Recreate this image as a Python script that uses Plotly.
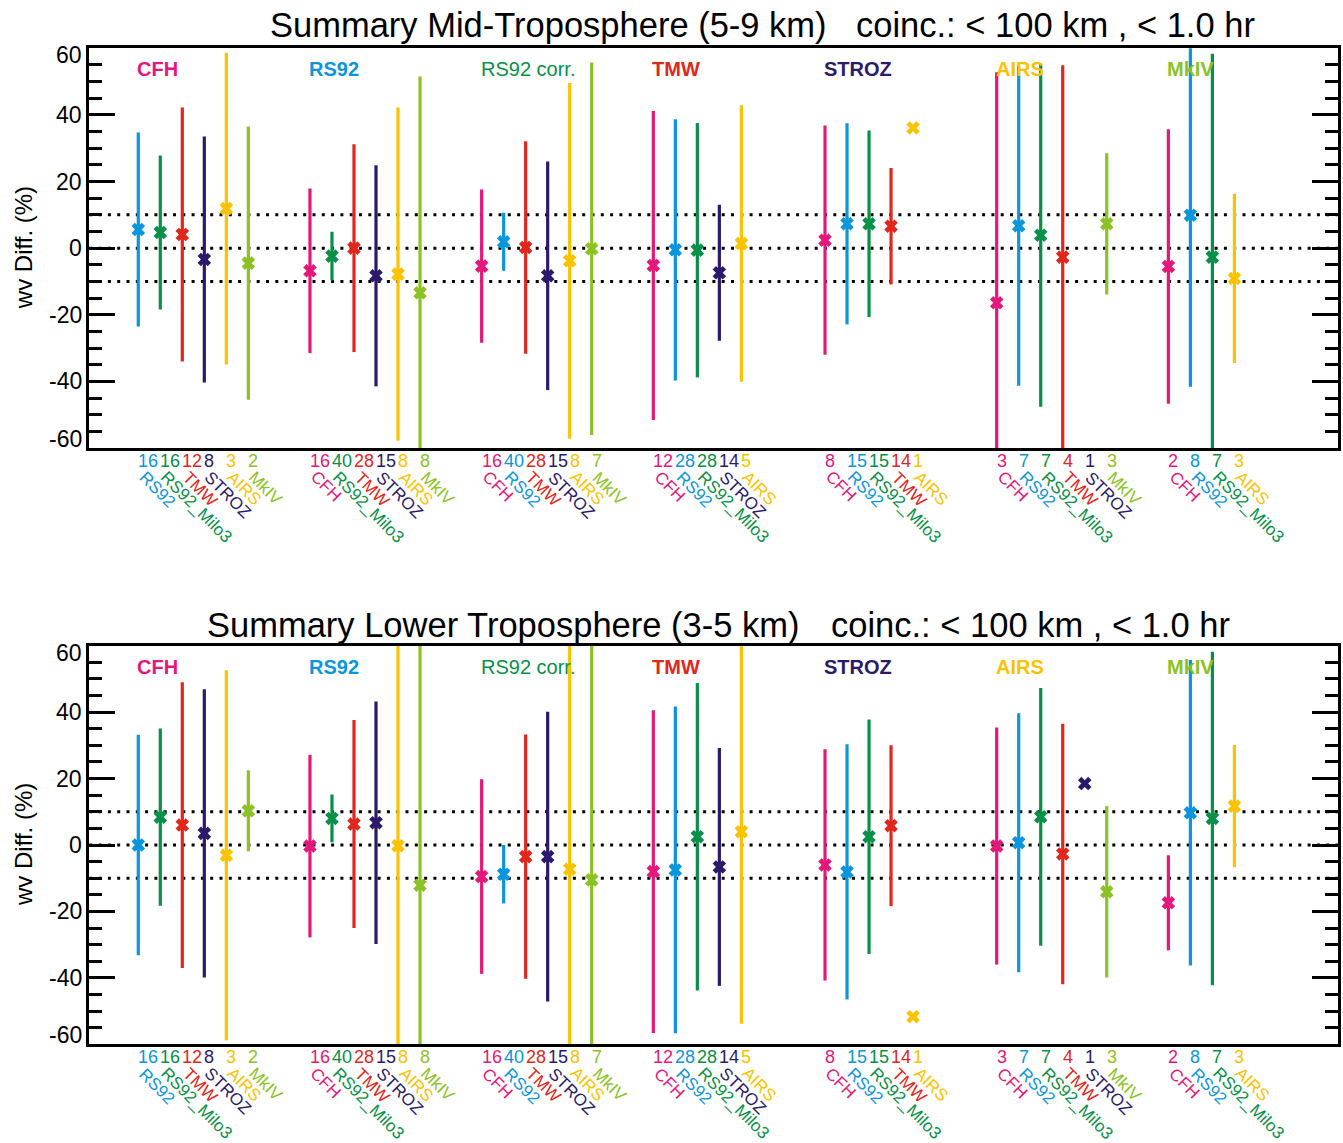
import plotly.graph_objects as go

# ---------------- data ----------------
instruments = ["CFH", "RS92", "RS92_Milo3", "TMW", "STROZ", "AIRS", "MkIV"]
inst_colors = ["#E5177B", "#0A96DC", "#079047", "#E1261C", "#2B1A6B", "#FBC200", "#8CC224"]

group_titles = ["CFH", "RS92", "RS92 corr.", "TMW", "STROZ", "AIRS", "MkIV"]
group_title_colors = ["#E5177B", "#0A96DC", "#079047", "#E1261C", "#2B1A6B", "#FBC200", "#8CC224"]
group_title_bold = [True, True, False, True, True, True, True]

partners = [
    ["RS92", "RS92_Milo3", "TMW", "STROZ", "AIRS", "MkIV"],
    ["CFH", "RS92_Milo3", "TMW", "STROZ", "AIRS", "MkIV"],
    ["CFH", "RS92", "TMW", "STROZ", "AIRS", "MkIV"],
    ["CFH", "RS92", "RS92_Milo3", "STROZ", "AIRS"],
    ["CFH", "RS92", "RS92_Milo3", "TMW", "AIRS"],
    ["CFH", "RS92", "RS92_Milo3", "TMW", "STROZ", "MkIV"],
    ["CFH", "RS92", "RS92_Milo3", "AIRS"],
]
counts = [
    [16, 16, 12, 8, 3, 2],
    [16, 40, 28, 15, 8, 8],
    [16, 40, 28, 15, 8, 7],
    [12, 28, 28, 14, 5],
    [8, 15, 15, 14, 1],
    [3, 7, 7, 4, 1, 3],
    [2, 8, 7, 3],
]

# Mid-troposphere (5-9 km): mean difference and standard deviation (%)
mid_mean = [
    [5.6, 4.7, 4.1, -3.4, 11.9, -4.5],
    [-6.8, -2.4, 0.0, -8.3, -7.8, -13.4],
    [-5.4, 1.9, 0.2, -8.3, -3.8, -0.2],
    [-5.2, -0.5, -0.6, -7.4, 1.4],
    [2.4, 7.3, 7.3, 6.6, 36.1],
    [-16.4, 6.7, 3.9, -2.7, None, 7.3],
    [-5.5, 9.9, -2.7, -9.1],
]
mid_sd = [
    [29.1, 23.1, 38.1, 36.9, 46.8, 41.0],
    [24.7, 7.3, 31.2, 33.2, 50.0, 64.9],
    [23.0, 8.7, 31.9, 34.3, 53.4, 55.9],
    [46.4, 39.2, 38.2, 20.4, 41.5],
    [34.4, 30.2, 28.0, 17.5, None],
    [69.2, 48.0, 51.5, 57.6, None, 21.2],
    [41.2, 51.5, 61.1, 25.4],
]

# Lower troposphere (3-5 km)
low_mean = [
    [0.0, 8.4, 6.0, 3.5, -3.1, 10.3],
    [-0.3, 8.0, 6.3, 6.7, -0.2, -12.1],
    [-9.5, -8.8, -3.5, -3.5, -7.3, -10.5],
    [-8.0, -7.5, 2.5, -6.6, 4.0],
    [-6.0, -8.1, 2.5, 5.8, -51.7],
    [-0.3, 0.7, 8.5, -2.7, 18.5, -14.1],
    [-17.4, 9.7, 8.0, 11.7],
]
low_sd = [
    [33.2, 26.7, 43.0, 43.4, 55.7, 12.2],
    [27.5, 7.2, 31.3, 36.5, 70.0, 75.0],
    [29.3, 8.8, 36.8, 43.6, 75.0, 75.0],
    [48.6, 49.2, 46.3, 35.8, 57.8],
    [34.8, 38.4, 35.3, 24.2, None],
    [35.7, 39.0, 38.8, 39.2, None, 25.8],
    [14.3, 46.0, 50.2, 18.4],
]

panel_titles = ["Summary Mid-Troposphere (5-9 km)", "Summary Lower Troposphere (3-5 km)"]
coinc_text = "coinc.: < 100 km , < 1.0 hr"
y_ticks = [-60, -40, -20, 0, 20, 40, 60]
ref_lines = [-10, 0, 10]

# ---------------- layout constants ----------------
W, H = 1343, 1143
FONT = "Liberation Sans, Arial, sans-serif"
GROUP_STEP = 7.8
X_RANGE = [-2.226, 54.507]
x_dom = [89.3 / W, 1338 / W]
y_doms = [[(H - 448) / H, (H - 48.3) / H], [(H - 1044.3) / H, (H - 645.7) / H]]
title_left = [270, 207]
coinc_left = [856, 831]
title_center_px = [24.5, 624.5]


def xpos(g, j):
    return g * GROUP_STEP + j


fig = go.Figure()
annotations = []
shapes = []

panels = [(mid_mean, mid_sd), (low_mean, low_sd)]
for p, (means, sds) in enumerate(panels):
    xa = "x" if p == 0 else "x2"
    ya = "y" if p == 0 else "y2"
    # one trace per partner instrument
    for k, inst in enumerate(instruments):
        xs, ys, es = [], [], []
        for g in range(len(group_titles)):
            for j, pn in enumerate(partners[g]):
                if pn == inst:
                    xs.append(xpos(g, j))
                    ys.append(means[g][j])
                    es.append(sds[g][j])
        if not xs:
            continue
        fig.add_trace(go.Scatter(
            x=xs, y=ys, xaxis=xa, yaxis=ya, mode="markers",
            marker=dict(symbol="x", size=12, color=inst_colors[k], line=dict(width=0)),
            error_y=dict(type="data", array=es, symmetric=True, thickness=3.2,
                         width=0, color=inst_colors[k]),
            showlegend=False, hoverinfo="skip",
        ))

    # reference dotted lines
    for v in ref_lines:
        shapes.append(dict(type="line", xref=f"{xa} domain", x0=0, x1=1, yref=ya, y0=v, y1=v,
                           line=dict(color="black", width=3, dash="3px,6.3px"), layer="below"))

    ybot = y_doms[p][0]
    ytop = y_doms[p][1]
    # group titles
    for g, t in enumerate(group_titles):
        txt = f"<b>{t}</b>" if group_title_bold[g] else t
        annotations.append(dict(x=xpos(g, 0), xref=xa, xanchor="left", xshift=-3,
                                y=ytop, yref="paper", yanchor="middle", yshift=-21,
                                text=txt, showarrow=False,
                                font=dict(family=FONT, size=20, color=group_title_colors[g])))
        # counts and names below axis
        for j, pn in enumerate(partners[g]):
            c = inst_colors[instruments.index(pn)]
            annotations.append(dict(x=xpos(g, j), xref=xa, xanchor="left", xshift=-2,
                                    y=ybot, yref="paper", yanchor="middle", yshift=-13,
                                    text=str(counts[g][j]), showarrow=False,
                                    font=dict(family=FONT, size=18, color=c)))
            annotations.append(dict(x=xpos(g, j), xref=xa, xanchor="left", xshift=-6,
                                    y=ybot, yref="paper", yanchor="top", yshift=-17,
                                    text=pn, textangle=45, showarrow=False,
                                    font=dict(family=FONT, size=17, color=c)))

    # y tick labels
    for v in y_ticks:
        ys_ = 0
        if v == 60:
            ys_ = -7
        elif v == -60:
            ys_ = 9
        annotations.append(dict(x=x_dom[0], xref="paper", xanchor="right", xshift=-5,
                                y=v, yref=ya, yanchor="middle", yshift=ys_,
                                text=str(v), showarrow=False,
                                font=dict(family=FONT, size=23, color="black")))
    # y-axis title
    annotations.append(dict(x=23 / W, xref="paper", xanchor="center",
                            y=(ybot + ytop) / 2, yref="paper", yanchor="middle",
                            text="wv Diff. (%)", textangle=-90, showarrow=False,
                            font=dict(family=FONT, size=24, color="black")))
    # panel title
    yc = (H - title_center_px[p]) / H
    annotations.append(dict(x=title_left[p] / W, xref="paper", xanchor="left", xshift=-2,
                            y=yc, yref="paper", yanchor="middle",
                            text=panel_titles[p], showarrow=False,
                            font=dict(family=FONT, size=34.5, color="black")))
    annotations.append(dict(x=coinc_left[p] / W, xref="paper", xanchor="left", xshift=-2,
                            y=yc, yref="paper", yanchor="middle",
                            text=coinc_text, showarrow=False,
                            font=dict(family=FONT, size=34.5, color="black")))

xaxis_common = dict(range=X_RANGE, domain=x_dom, showline=True, linewidth=3, linecolor="black",
                    mirror=True, ticks="", showticklabels=False, showgrid=False, zeroline=False,
                    fixedrange=True)
yaxis_common = dict(range=[-60, 60], tickmode="array", tickvals=y_ticks, ticks="inside",
                    ticklen=26, tickwidth=3, tickcolor="black",
                    minor=dict(dtick=5, tick0=0, ticks="inside", ticklen=13, tickwidth=3,
                               tickcolor="black", showgrid=False),
                    showline=True, linewidth=3, linecolor="black", mirror="ticks",
                    showticklabels=False, showgrid=False, zeroline=False, fixedrange=True)

fig.update_layout(
    width=W, height=H, margin=dict(l=0, r=0, t=0, b=0),
    paper_bgcolor="white", plot_bgcolor="white",
    xaxis=dict(**xaxis_common, anchor="y"),
    yaxis=dict(**yaxis_common, domain=y_doms[0], anchor="x"),
    xaxis2=dict(**xaxis_common, anchor="y2"),
    yaxis2=dict(**yaxis_common, domain=y_doms[1], anchor="x2"),
    annotations=annotations, shapes=shapes, showlegend=False,
    font=dict(family=FONT),
)

fig.write_html("out.html", config={"displayModeBar": False},
               post_script="document.body.style.margin='0';document.body.style.overflow='hidden';")
